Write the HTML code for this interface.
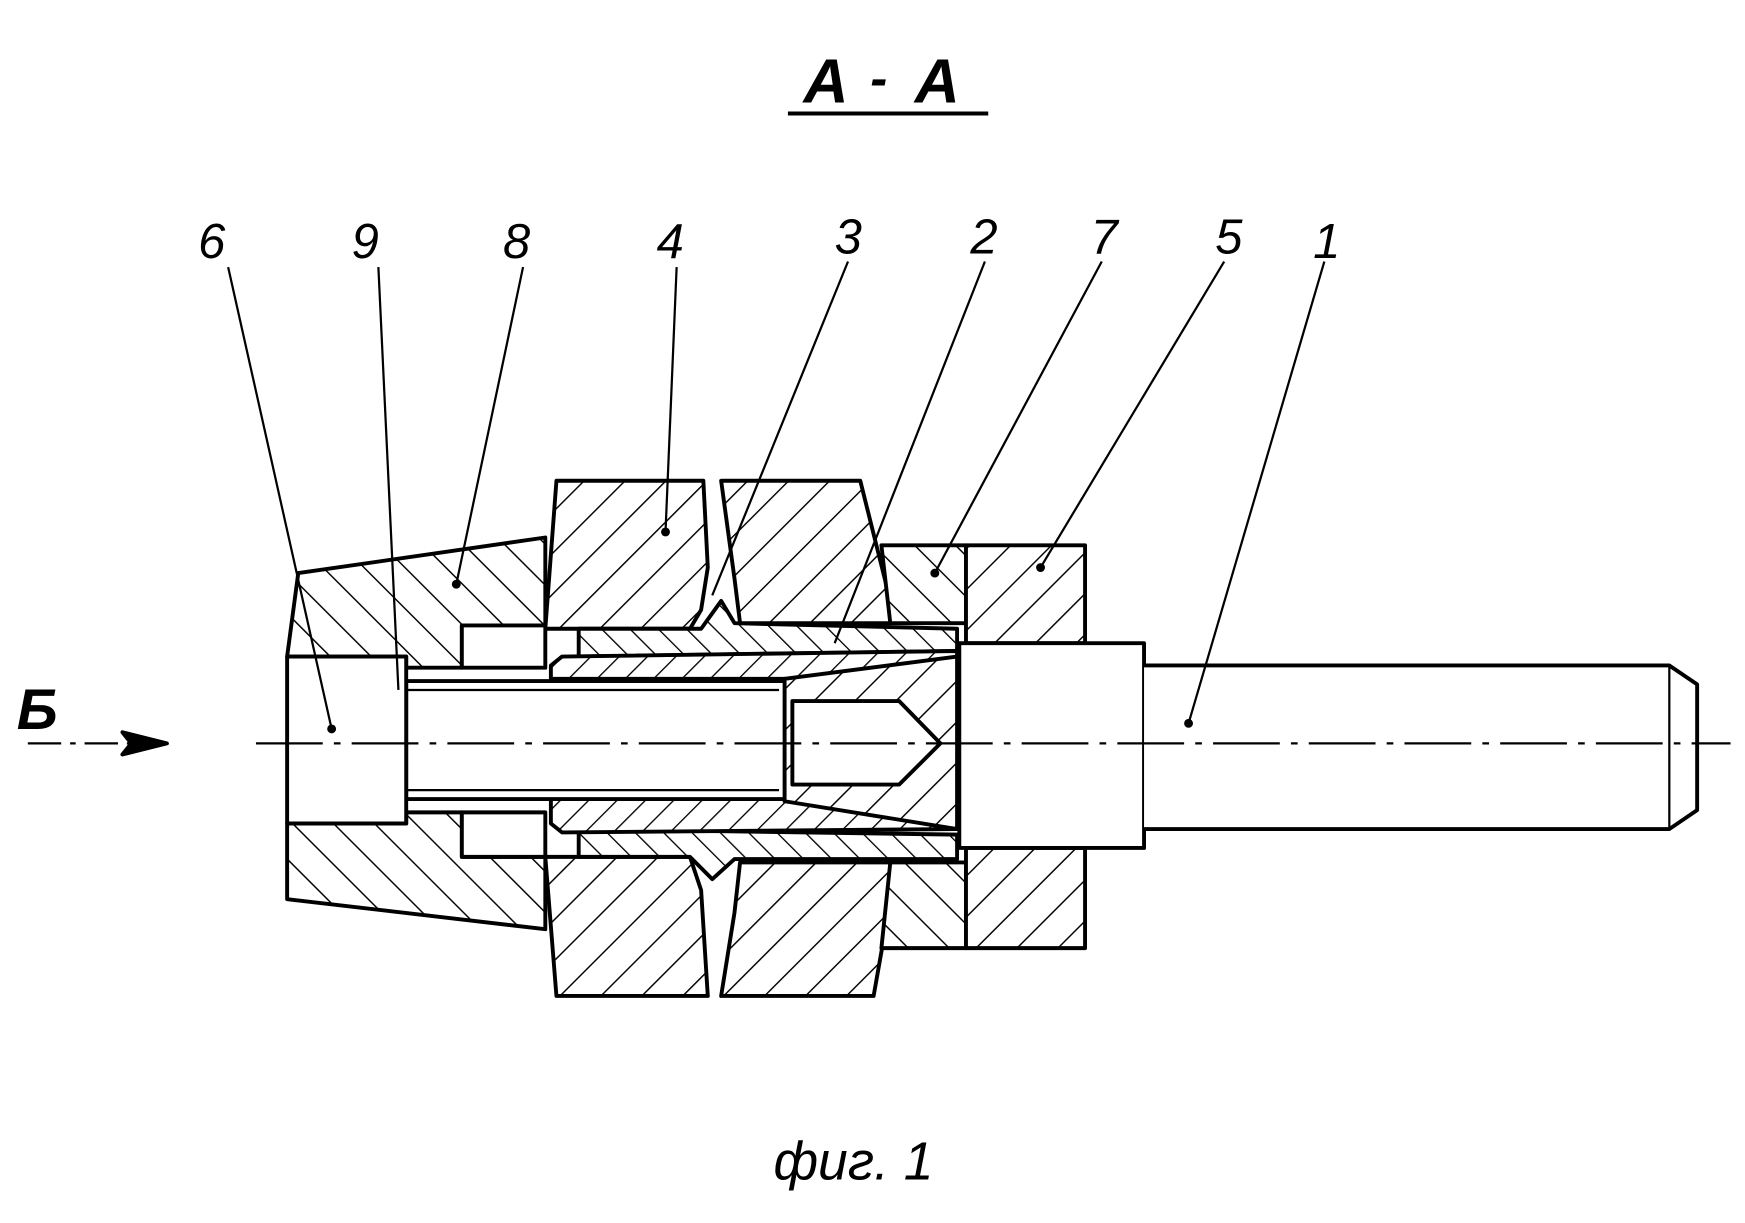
<!DOCTYPE html>
<html><head><meta charset="utf-8"><style>
html,body{margin:0;padding:0;background:#fff;}
svg{display:block;}
text{font-family:"Liberation Sans",sans-serif;font-style:italic;fill:#000;}
</style></head><body>
<svg width="1745" height="1223" viewBox="0 0 1568 1099" preserveAspectRatio="none" xmlns="http://www.w3.org/2000/svg">
<defs>
<pattern id="hb" patternUnits="userSpaceOnUse" width="26" height="26" patternTransform="rotate(45)">
<rect width="26" height="26" fill="#fff"/><line x1="0" y1="0" x2="0" y2="26" stroke="#000" stroke-width="2.6"/></pattern>
<pattern id="hf" patternUnits="userSpaceOnUse" width="26" height="26" patternTransform="rotate(-45)">
<rect width="26" height="26" fill="#fff"/><line x1="0" y1="0" x2="0" y2="26" stroke="#000" stroke-width="2.6"/></pattern>
<pattern id="hs" patternUnits="userSpaceOnUse" width="18" height="18" patternTransform="rotate(-45)">
<rect width="18" height="18" fill="#fff"/><line x1="0" y1="0" x2="0" y2="18" stroke="#000" stroke-width="2.4"/></pattern>
<pattern id="hsb" patternUnits="userSpaceOnUse" width="18" height="18" patternTransform="rotate(45)">
<rect width="18" height="18" fill="#fff"/><line x1="0" y1="0" x2="0" y2="18" stroke="#000" stroke-width="2.4"/></pattern>
</defs>
<g stroke="#000" stroke-width="3.5" stroke-linejoin="round">
<!-- title -->
<text x="722" y="92" font-size="56" font-weight="bold" stroke="none">А</text>
<text x="782" y="86" font-size="46" font-weight="bold" stroke="none">-</text>
<text x="822" y="92" font-size="56" font-weight="bold" stroke="none">А</text>
<line x1="708" y1="102" x2="888" y2="102"/>
<!-- part 8 body -->
<path d="M268 515 L490 483 L490 562 L415 562 L415 600 L365 600 L365 590 L258 590 Z" fill="url(#hf)"/>
<path d="M258 740 L365 740 L365 730 L415 730 L415 770 L490 770 L490 835 L258 808 Z" fill="url(#hf)"/>
<!-- part 4 wheel left half -->
<path d="M500 432 L632 432 L636 510 L630 548 L620 565 L490 565 Z" fill="url(#hb)"/>
<path d="M490 770 L620 770 L630 800 L636 895 L500 895 Z" fill="url(#hb)"/>
<!-- wheel right half -->
<path d="M648 432 L773 432 L800 540 L800 560 L665 560 L660 520 Z" fill="url(#hb)"/>
<path d="M665 775 L800 775 L800 810 L785 895 L648 895 L660 820 Z" fill="url(#hb)"/>
<!-- part 7 -->
<path d="M792 490 L868 490 L868 560 L800 560 Z" fill="url(#hf)"/>
<path d="M800 775 L868 775 L868 852 L792 852 Z" fill="url(#hf)"/>
<!-- part 5 -->
<path d="M868 490 L975 490 L975 578 L868 578 Z" fill="url(#hb)"/>
<path d="M868 762 L975 762 L975 852 L868 852 Z" fill="url(#hb)"/>
<!-- part 3 sleeve -->
<path d="M520 565 L630 565 L648 540 L660 560 L860 565 L860 585 L520 590 Z" fill="url(#hs)"/>
<path d="M520 745 L860 750 L860 772 L660 772 L640 790 L620 770 L520 770 Z" fill="url(#hs)"/>
<!-- part 2 -->
<path d="M495 598 L505 590 L860 585 L860 745 L505 748 L495 740 L495 718 L705 718 L705 610 L495 610 Z" fill="url(#hsb)"/>
<path d="M705 610 L860 590 L860 745 L705 720 Z" fill="url(#hb)"/>
<path d="M712 630 L808 630 L845 668 L808 705 L712 705 Z" fill="#fff"/>
<!-- bolt 9 -->
<rect x="365" y="612" width="340" height="106" fill="#fff"/>
<line x1="365" y1="620" x2="700" y2="620" stroke-width="2"/>
<line x1="365" y1="710" x2="700" y2="710" stroke-width="2"/>
<line x1="355" y1="598" x2="355" y2="738"/>
<!-- head 6 -->
<rect x="258" y="590" width="107" height="150" fill="#fff"/>
<!-- cavity in 8 -->
<rect x="415" y="562" width="75" height="38" fill="#fff"/>
<rect x="415" y="730" width="75" height="40" fill="#fff"/>
<!-- shaft 1 -->
<rect x="862" y="578" width="166" height="184" fill="#fff"/>
<path d="M1028 598 L1500 598 L1525 615 L1525 728 L1500 745 L1028 745" fill="#fff"/>
<line x1="1500" y1="598" x2="1500" y2="745" stroke-width="2"/>
<!-- centerline -->
<line x1="230" y1="668" x2="1555" y2="668" stroke-width="2" stroke-dasharray="60,10,6,10"/>
<!-- Б arrow -->
<text x="15" y="655" font-size="52" font-weight="bold" stroke="none">Б</text>
<line x1="25" y1="668" x2="140" y2="668" stroke-width="2" stroke-dasharray="30,8,5,8"/>
<path d="M150 668 L110 658 L118 668 L110 678 Z" fill="#000"/>
<!-- leaders -->
<g stroke-width="2" fill="none">
<line x1="205" y1="240" x2="298" y2="655"/>
<line x1="340" y1="240" x2="358" y2="620"/>
<line x1="470" y1="240" x2="410" y2="525"/>
<line x1="608" y1="240" x2="598" y2="478"/>
<line x1="762" y1="235" x2="640" y2="535"/>
<line x1="885" y1="235" x2="750" y2="578"/>
<line x1="990" y1="235" x2="840" y2="515"/>
<line x1="1100" y1="235" x2="935" y2="510"/>
<line x1="1190" y1="235" x2="1068" y2="650"/>
</g>
<g fill="#000" stroke="none">
<circle cx="298" cy="655" r="4"/><circle cx="410" cy="525" r="4"/><circle cx="598" cy="478" r="4"/>
<circle cx="840" cy="515" r="4"/><circle cx="935" cy="510" r="4"/><circle cx="1068" cy="650" r="4"/>
</g>
<g stroke="none" font-size="44">
<text x="178" y="232">6</text><text x="316" y="232">9</text><text x="452" y="232">8</text>
<text x="590" y="232">4</text><text x="750" y="228">3</text><text x="872" y="228">2</text>
<text x="980" y="228">7</text><text x="1092" y="228">5</text><text x="1180" y="232">1</text>
</g>
<text x="695" y="1060" font-size="48" stroke="none">фиг. 1</text>
</g>
</svg>
</body></html>
